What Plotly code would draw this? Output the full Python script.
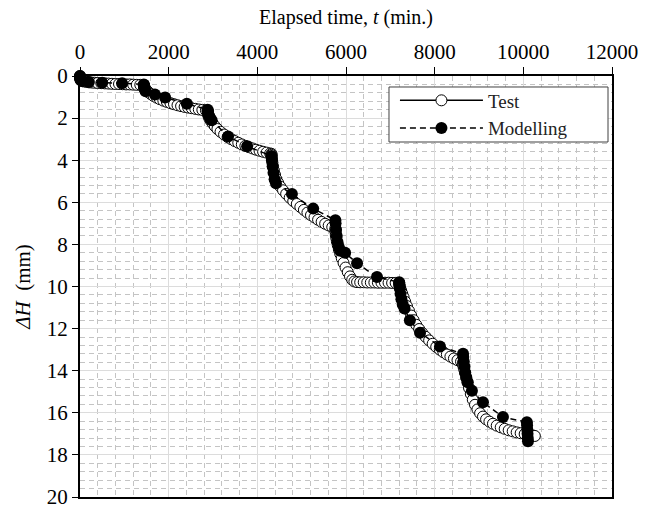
import plotly.graph_objects as go

# ---- Test data (elapsed time in min, settlement in mm) ----
test_t = [
    0, 2, 5, 10, 20, 40, 70, 100, 150, 200, 260, 330, 400, 480, 560, 640, 720, 800, 880, 960, 1040, 1120, 1200, 1280, 1360, 1440,
    1441, 1445, 1450, 1460, 1480, 1510, 1550, 1600, 1660, 1730, 1800, 1880, 1960, 2040, 2120, 2200, 2280, 2360, 2440, 2520, 2600, 2680, 2760, 2840, 2880,
    2881, 2885, 2890, 2900, 2920, 2950, 2990, 3040, 3100, 3170, 3250, 3330, 3410, 3490, 3570, 3650, 3730, 3810, 3890, 3970, 4050, 4130, 4210, 4290, 4320,
    4321, 4325, 4330, 4340, 4355, 4375, 4400, 4430, 4470, 4520, 4580, 4650, 4730, 4810, 4890, 4970, 5050, 5130, 5210, 5290, 5370, 5450, 5530, 5610, 5690, 5760,
    5761, 5765, 5770, 5780, 5795, 5815, 5840, 5870, 5905, 5945, 5990, 6040, 6090, 6140, 6190, 6250, 6320, 6400, 6480, 6560, 6640, 6720, 6800, 6880, 6960, 7040, 7120, 7200,
    7201, 7210, 7225, 7245, 7270, 7300, 7335, 7375, 7420, 7470, 7525, 7585, 7650, 7720, 7795, 7875, 7955, 8035, 8115, 8195, 8275, 8355, 8435, 8515, 8595, 8640,
    8641, 8650, 8665, 8685, 8710, 8740, 8775, 8815, 8860, 8910, 8965, 9025, 9090, 9160, 9235, 9315, 9400, 9490, 9580, 9670, 9760, 9850, 9940, 10030, 10120, 10200, 10260,
]
test_dh = [
    0, 0.05, 0.09, 0.13, 0.17, 0.21, 0.24, 0.26, 0.28, 0.30, 0.31, 0.32, 0.33, 0.34, 0.35, 0.36, 0.37, 0.38, 0.38, 0.39, 0.40, 0.40, 0.41, 0.42, 0.42, 0.43,
    0.45, 0.48, 0.52, 0.57, 0.63, 0.70, 0.78, 0.86, 0.95, 1.03, 1.10, 1.17, 1.23, 1.29, 1.34, 1.39, 1.43, 1.47, 1.50, 1.53, 1.56, 1.59, 1.61, 1.63, 1.64,
    1.70, 1.76, 1.83, 1.92, 2.02, 2.13, 2.25, 2.38, 2.52, 2.65, 2.78, 2.90, 3.00, 3.09, 3.17, 3.25, 3.32, 3.38, 3.44, 3.50, 3.55, 3.60, 3.64, 3.68, 3.70,
    3.75, 3.85, 3.97, 4.12, 4.30, 4.50, 4.70, 4.90, 5.08, 5.26, 5.43, 5.60, 5.78, 5.94, 6.08, 6.22, 6.36, 6.49, 6.61, 6.72, 6.83, 6.93, 7.02, 7.10, 7.18, 7.24,
    7.32, 7.42, 7.55, 7.70, 7.87, 8.05, 8.25, 8.45, 8.66, 8.88, 9.10, 9.32, 9.52, 9.68, 9.76, 9.79, 9.80, 9.80, 9.81, 9.81, 9.81, 9.82, 9.82, 9.82, 9.82, 9.83, 9.83, 9.83,
    9.90, 9.98, 10.08, 10.20, 10.35, 10.52, 10.72, 10.93, 11.15, 11.38, 11.60, 11.82, 12.02, 12.21, 12.39, 12.56, 12.72, 12.87, 13.00, 13.12, 13.23, 13.33, 13.42, 13.50, 13.57, 13.62,
    13.70, 13.80, 13.93, 14.10, 14.30, 14.55, 14.82, 15.10, 15.38, 15.62, 15.84, 16.02, 16.18, 16.31, 16.42, 16.52, 16.61, 16.69, 16.76, 16.83, 16.88, 16.93, 16.97, 17.01, 17.05, 17.08, 17.10,
]

# ---- Modelling data ----
model_t = [
    0, 1, 3, 6, 12, 25, 60, 200, 500, 950, 1440,
    1442, 1445, 1450, 1460, 1480, 1690, 1920, 2410, 2880,
    2885, 2895, 2910, 2935, 2970, 3340, 3770, 4320,
    4330, 4345, 4365, 4390, 4420, 4780, 5260, 5760,
    5765, 5775, 5790, 5810, 5840, 5870, 5980, 6250, 6700, 7200,
    7205, 7215, 7230, 7250, 7280, 7320, 7440, 7670, 8120, 8640,
    8645, 8655, 8670, 8690, 8715, 8745, 8840, 9090, 9540, 10080,
    10085, 10090, 10095, 10100, 10105,
]
model_dh = [
    0, 0.05, 0.10, 0.14, 0.18, 0.22, 0.25, 0.28, 0.32, 0.35, 0.40,
    0.45, 0.50, 0.56, 0.63, 0.72, 0.88, 1.02, 1.32, 1.60,
    1.70, 1.80, 1.90, 2.00, 2.10, 2.87, 3.34, 3.80,
    4.00, 4.30, 4.60, 4.90, 5.10, 5.60, 6.30, 6.85,
    7.00, 7.30, 7.60, 7.90, 8.15, 8.30, 8.40, 8.90, 9.55, 9.80,
    9.90, 10.10, 10.35, 10.60, 10.85, 11.05, 11.60, 12.20, 12.85, 13.20,
    13.35, 13.55, 13.80, 14.10, 14.35, 14.55, 14.95, 15.50, 16.20, 16.45,
    16.60, 16.80, 17.00, 17.20, 17.35,
]

FONT = "Liberation Serif"

fig = go.Figure()
fig.add_trace(go.Scatter(
    x=test_t, y=test_dh, name="Test", mode="lines+markers",
    line=dict(color="black", width=1.5),
    marker=dict(symbol="circle", size=11, color="white", line=dict(color="black", width=1)),
    cliponaxis=False,
))
fig.add_trace(go.Scatter(
    x=model_t, y=model_dh, name="Modelling", mode="lines+markers",
    line=dict(color="black", width=1.5, dash="6px,4px"),
    marker=dict(symbol="circle", size=12, color="black", line=dict(color="black", width=0)),
    cliponaxis=False,
))

# legend frame (white box with dark border)
fig.add_shape(
    type="rect", xref="paper", yref="paper",
    x0=0.5808, x1=0.9925, y0=0.8432, y1=0.9739,
    line=dict(color="#404040", width=1), fillcolor="white", layer="above",
)

fig.update_layout(
    width=652, height=511,
    margin=dict(l=80, r=40, t=76, b=14, autoexpand=False),
    paper_bgcolor="white", plot_bgcolor="white",
    font=dict(family=FONT, size=20, color="black"),
    showlegend=True,
    legend=dict(
        x=0.592, y=0.987, xanchor="left", yanchor="top",
        bgcolor="rgba(0,0,0,0)", borderwidth=0,
        font=dict(family=FONT, size=19, color="#222"),
        itemwidth=83, tracegroupgap=0,
    ),
    xaxis=dict(
        side="top", range=[0, 12000], dtick=2000, tick0=0, tickformat="d",
        showline=True, linecolor="black", linewidth=2, mirror=True,
        ticks="outside", ticklen=7, tickcolor="black", tickwidth=1,
        showgrid=True, gridcolor="#dcdcdc", gridwidth=1,
        minor=dict(dtick=400, showgrid=True, gridcolor="#c4c4c4", griddash="5px,4px", gridwidth=1, ticks=""),
        zeroline=False, ticklabeloverflow="allow", automargin=False,
        tickfont=dict(family=FONT, size=21, color="black"),
        title=dict(text="Elapsed time, <i>t</i> (min.)", font=dict(family=FONT, size=20), standoff=10),
    ),
    yaxis=dict(
        range=[20, 0], dtick=2, tick0=0, tickformat="d",
        showline=True, linecolor="black", linewidth=2, mirror=True,
        ticks="outside", ticklen=6, tickcolor="black", tickwidth=1,
        showgrid=True, gridcolor="#dcdcdc", gridwidth=1,
        minor=dict(dtick=0.4, showgrid=True, gridcolor="#c4c4c4", griddash="5px,4px", gridwidth=1, ticks=""),
        zeroline=False, ticklabeloverflow="allow", automargin=False,
        tickfont=dict(family=FONT, size=21, color="black"),
        title=dict(text="<i>ΔH</i>  (mm)", font=dict(family=FONT, size=21), standoff=10),
    ),
)

fig.write_html("out.html")
